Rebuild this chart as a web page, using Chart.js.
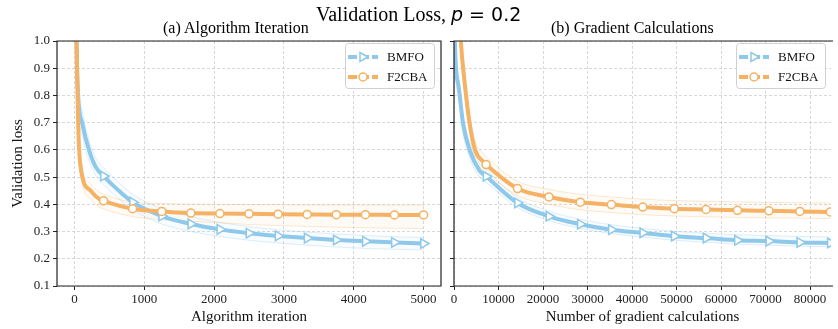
<!DOCTYPE html>
<html>
<head>
<meta charset="utf-8">
<script src="https://cdn.jsdelivr.net/npm/chart.js@4.4.1/dist/chart.umd.min.js"></script>
<style>
    body { margin: 0; background: #fff; }
    #wrap { position: relative; width: 838px; height: 329px; overflow: hidden; background: #fff; }
    .t { position: absolute; white-space: nowrap; color: #000; line-height: 1; }
</style>
</head>
<body>
<div id="wrap">
    <canvas id="c1" width="448" height="329" style="position:absolute;left:0;top:0"></canvas>
    <canvas id="c2" width="394" height="329" style="position:absolute;left:444px;top:0"></canvas>
    <div class="t" style="left:316px;top:4px;font-size:20px;font-family:'Liberation Serif'">Validation Loss, <span style="font-family:'DejaVu Sans';font-size:19px"><i>p</i> = 0.2</span></div>
    <div class="t" style="left:163px;top:20px;font-size:16px;font-family:'Liberation Serif'">(a) Algorithm Iteration</div>
    <div class="t" style="left:551px;top:20px;font-size:16px;font-family:'Liberation Serif'">(b) Gradient Calculations</div>
</div>
<script>
// Datos

// (a) iteraciones del algoritmo
var iterTicks = [0, 1000, 2000, 3000, 4000, 5000];
var iterMarks = [417, 833, 1250, 1667, 2083, 2500, 2917, 3333, 3750, 4167, 4583, 5000];

var bmfoIterX   = [0, 30, 53, 114, 210, 305, 417, 614, 833, 1250, 1667, 2083, 2500, 2917, 3333, 3750, 4167, 4583, 5000];
var bmfoIterY   = [1.9, 1.0, 0.8, 0.695, 0.598, 0.537, 0.504, 0.455, 0.408, 0.357, 0.328, 0.308, 0.294, 0.284, 0.276, 0.269, 0.264, 0.26, 0.256];
var bmfoIterUp  = [2.0, 1.06, 0.85, 0.74, 0.635, 0.57, 0.535, 0.485, 0.437, 0.385, 0.355, 0.334, 0.318, 0.307, 0.298, 0.291, 0.285, 0.281, 0.278];
var bmfoIterLo  = [1.8, 0.94, 0.75, 0.65, 0.56, 0.505, 0.473, 0.425, 0.38, 0.328, 0.3, 0.282, 0.268, 0.258, 0.25, 0.243, 0.238, 0.235, 0.232];

var f2cbaIterX  = [0, 20, 30, 45, 53, 67, 114, 233, 352, 417, 833, 1250, 1667, 2083, 2500, 2917, 3333, 3750, 4167, 4583, 5000];
var f2cbaIterY  = [1.9, 1.15, 1.0, 0.8, 0.7, 0.6, 0.5, 0.45, 0.42, 0.413, 0.384, 0.374, 0.368, 0.366, 0.365, 0.364, 0.363, 0.362, 0.362, 0.361, 0.361];
var f2cbaIterUp = [2.0, 1.2, 1.05, 0.84, 0.74, 0.64, 0.53, 0.475, 0.445, 0.437, 0.408, 0.403, 0.401, 0.4, 0.399, 0.399, 0.398, 0.398, 0.397, 0.397, 0.397];
var f2cbaIterLo = [1.8, 1.1, 0.95, 0.76, 0.66, 0.56, 0.47, 0.42, 0.39, 0.383, 0.355, 0.344, 0.337, 0.332, 0.326, 0.322, 0.319, 0.316, 0.314, 0.312, 0.311];

// (b) cálculos de gradiente
var gradTicks = [0, 10000, 20000, 30000, 40000, 50000, 60000, 70000, 80000];
var gradMarks = [7210, 14270, 21330, 28390, 35360, 42420, 49480, 56620, 63680, 70740, 77700, 84560];

var bmfoGradX   = [0, 200, 950, 2050, 3530, 5730, 7210, 14270, 21330, 28390, 35360, 42420, 49480, 56620, 63680, 70740, 77700, 84560];
var bmfoGradY   = [1.4, 1.0, 0.842, 0.695, 0.598, 0.524, 0.503, 0.405, 0.356, 0.327, 0.307, 0.295, 0.283, 0.276, 0.268, 0.265, 0.26, 0.258];
var bmfoGradUp  = [1.5, 1.05, 0.88, 0.73, 0.63, 0.55, 0.528, 0.425, 0.375, 0.345, 0.325, 0.312, 0.301, 0.294, 0.288, 0.285, 0.282, 0.28];
var bmfoGradLo  = [1.3, 0.95, 0.8, 0.66, 0.57, 0.5, 0.48, 0.388, 0.34, 0.312, 0.292, 0.28, 0.268, 0.261, 0.254, 0.25, 0.246, 0.244];

var f2cbaGradX  = [1000, 1540, 2430, 3530, 4780, 6690, 7210, 14270, 21330, 28390, 35360, 42420, 49480, 56620, 63680, 70740, 77700, 84560];
var f2cbaGradY  = [1.2, 1.0, 0.842, 0.695, 0.598, 0.555, 0.546, 0.458, 0.427, 0.408, 0.399, 0.39, 0.384, 0.381, 0.378, 0.376, 0.374, 0.372];
var f2cbaGradUp = [1.25, 1.05, 0.88, 0.73, 0.63, 0.585, 0.575, 0.485, 0.455, 0.437, 0.427, 0.419, 0.414, 0.411, 0.409, 0.407, 0.406, 0.405];
var f2cbaGradLo = [1.15, 0.95, 0.8, 0.66, 0.565, 0.525, 0.517, 0.432, 0.4, 0.38, 0.37, 0.362, 0.357, 0.354, 0.352, 0.35, 0.349, 0.348];

var yTicks = [0.1, 0.2, 0.3, 0.4, 0.5, 0.6, 0.7, 0.8, 0.9, 1.0];

// Colores
var AZUL = '#8ec8ea';
var NARANJA = '#f5b264';
var SERIF = "'Liberation Serif', 'Times New Roman', serif";
var GRID = 'rgba(190,190,190,0.75)';

function puntos(xs, ys) {
    return xs.map(function (x, i) { return { x: x, y: ys[i] }; });
}

function rgba(hex, a) {
    var n = parseInt(hex.slice(1), 16);
    return 'rgba(' + (n >> 16) + ',' + ((n >> 8) & 255) + ',' + (n & 255) + ',' + a + ')';
}

function serieDatasets(xs, ys, up, lo, marks, color, style, order) {
    var main = {
        data: puntos(xs, ys),
        borderColor: color,
        borderWidth: 4,
        cubicInterpolationMode: 'monotone',
        clip: 0,
        order: order,
        pointStyle: style,
        rotation: style === 'triangle' ? 90 : 0,
        pointRadius: function (ctx) {
            var x = xs[ctx.dataIndex];
            if (marks.indexOf(x) < 0) return 0;
            return style === 'triangle' ? 5.5 : 4;
        },
        pointHoverRadius: 0,
        pointBackgroundColor: '#fff',
        pointBorderColor: color,
        pointBorderWidth: 1.5
    };
    var alto = {
        data: puntos(xs, up),
        borderColor: rgba(color, 0.3),
        borderWidth: 1,
        cubicInterpolationMode: 'monotone',
        clip: 0,
        order: order + 2,
        pointRadius: 0
    };
    var bajo = {
        data: puntos(xs, lo),
        borderColor: rgba(color, 0.3),
        borderWidth: 1,
        cubicInterpolationMode: 'monotone',
        clip: 0,
        order: order + 2,
        pointRadius: 0,
        fill: '-1',
        backgroundColor: rgba(color, 0.05)
    };
    return [main, alto, bajo];
}

// Bordes de los ejes (spines)
var spinesPlugin = {
    id: 'spines',
    afterDatasetsDraw: function (chart, args, opts) {
        var a = chart.chartArea, ctx = chart.ctx;
        ctx.save();
        ctx.strokeStyle = '#222';
        ctx.lineWidth = 1.2;
        ctx.beginPath();
        if (opts.right) {
            ctx.rect(a.left, a.top, a.right - a.left, a.bottom - a.top);
        } else {
            ctx.moveTo(a.right + 2, a.top);
            ctx.lineTo(a.left, a.top);
            ctx.lineTo(a.left, a.bottom);
            ctx.lineTo(a.right + 2, a.bottom);
        }
        ctx.stroke();
        ctx.restore();
    }
};

// Leyenda con caja (estilo matplotlib)
var leyendaPlugin = {
    id: 'leyenda',
    afterDraw: function (chart, args, opts) {
        var a = chart.chartArea, ctx = chart.ctx;
        var x0 = a.right - opts.offset, y0 = 43, w = 89, h = 45;
        ctx.save();
        ctx.fillStyle = 'rgba(255,255,255,0.85)';
        ctx.strokeStyle = '#d0d0d0';
        ctx.lineWidth = 1;
        ctx.beginPath();
        ctx.roundRect(x0 + 0.5, y0 + 0.5, w, h, 3);
        ctx.fill();
        ctx.stroke();
        var items = [
            { label: 'BMFO', color: AZUL, style: 'triangle' },
            { label: 'F2CBA', color: NARANJA, style: 'circle' }
        ];
        items.forEach(function (it, i) {
            var y = y0 + 14 + i * 20;
            ctx.strokeStyle = it.color;
            ctx.lineWidth = 4;
            ctx.setLineDash([9, 3]);
            ctx.beginPath();
            ctx.moveTo(x0 + 3, y);
            ctx.lineTo(x0 + 33, y);
            ctx.stroke();
            ctx.setLineDash([]);
            ctx.fillStyle = '#fff';
            ctx.lineWidth = 1.5;
            ctx.beginPath();
            var cx = x0 + 18;
            if (it.style === 'circle') {
                ctx.arc(cx, y, 4, 0, Math.PI * 2);
            } else {
                ctx.moveTo(cx + 5, y);
                ctx.lineTo(cx - 3, y - 4.5);
                ctx.lineTo(cx - 3, y + 4.5);
                ctx.closePath();
            }
            ctx.fill();
            ctx.stroke();
            ctx.fillStyle = '#111';
            ctx.font = '13px ' + SERIF;
            ctx.textBaseline = 'middle';
            ctx.fillText(it.label, x0 + 42, y + 1);
        });
        ctx.restore();
    }
};

function ejeX(min, max, marcas, titulo) {
    return {
        type: 'linear',
        min: min,
        max: max,
        afterBuildTicks: function (s) {
            s.ticks = marcas.map(function (v) { return { value: v }; });
        },
        ticks: {
            maxRotation: 0,
            autoSkip: false,
            padding: 2,
            color: '#222',
            font: { family: SERIF, size: 13 },
            callback: function (v) { return String(v); }
        },
        grid: {
            color: GRID,
            lineWidth: 0.8,
            tickLength: 4,
            tickColor: '#222',
            tickWidth: 1,
            tickBorderDash: []
        },
        border: { display: false, dash: [3, 2] },
        title: {
            display: true,
            text: titulo,
            color: '#111',
            font: { family: SERIF, size: 15 },
            padding: { top: 0, bottom: 2.5 }
        },
        afterFit: function (s) { s.height = 43; }
    };
}

function ejeY(conEtiquetas) {
    return {
        min: 0.1,
        max: 1.0,
        afterBuildTicks: function (s) {
            s.ticks = yTicks.map(function (v) { return { value: v }; });
        },
        ticks: {
            padding: 3,
            color: '#222',
            font: { family: SERIF, size: 13 },
            callback: function (v) { return conEtiquetas ? Number(v).toFixed(1) : ''; }
        },
        grid: {
            color: GRID,
            lineWidth: 0.8,
            tickLength: 4,
            tickColor: '#222',
            tickWidth: 1,
            tickBorderDash: []
        },
        border: { display: false, dash: [3, 2] },
        title: {
            display: conEtiquetas,
            text: 'Validation loss',
            color: '#111',
            font: { family: SERIF, size: 15 },
            padding: { top: 9, bottom: 0 }
        },
        afterFit: function (s) { s.width = conEtiquetas ? 57 : 10; }
    };
}

function opciones(xScale, yScale, conBordeDerecho, padRight) {
    return {
        responsive: false,
        animation: false,
        events: [],
        layout: { padding: { top: 41, right: padRight, left: 0, bottom: 0 } },
        scales: { x: xScale, y: yScale },
        plugins: {
            legend: { display: false },
            tooltip: { enabled: false },
            spines: { right: conBordeDerecho },
            leyenda: { offset: conBordeDerecho ? 96 : 95 }
        }
    };
}

// Gráfico (a)
new Chart(document.getElementById('c1').getContext('2d'), {
    type: 'line',
    data: {
        datasets: []
            .concat(serieDatasets(f2cbaIterX, f2cbaIterY, f2cbaIterUp, f2cbaIterLo, iterMarks, NARANJA, 'circle', 0))
            .concat(serieDatasets(bmfoIterX, bmfoIterY, bmfoIterUp, bmfoIterLo, iterMarks, AZUL, 'triangle', 1))
    },
    options: opciones(ejeX(-250, 5250, iterTicks, 'Algorithm iteration'), ejeY(true), true, 0),
    plugins: [spinesPlugin, leyendaPlugin]
});

// Gráfico (b)
new Chart(document.getElementById('c2').getContext('2d'), {
    type: 'line',
    data: {
        datasets: []
            .concat(serieDatasets(f2cbaGradX, f2cbaGradY, f2cbaGradUp, f2cbaGradLo, gradMarks, NARANJA, 'circle', 0))
            .concat(serieDatasets(bmfoGradX, bmfoGradY, bmfoGradUp, bmfoGradLo, gradMarks, AZUL, 'triangle', 1))
    },
    options: opciones(ejeX(0, 84700, gradTicks, 'Number of gradient calculations'), ejeY(false), false, 0),
    plugins: [spinesPlugin, leyendaPlugin]
});
</script>
</body>
</html>
